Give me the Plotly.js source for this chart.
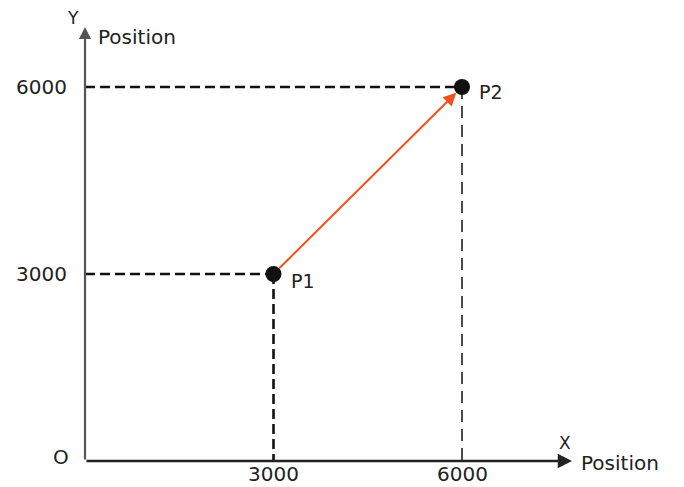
<!DOCTYPE html>
<html><head><meta charset="utf-8">
<script src="https://cdn.plot.ly/plotly-3.0.1.min.js"></script>
<style>body{margin:0;background:#fff}#c{width:684px;height:487px}</style>
</head><body><div id="c"></div>
<script>
const pointNames = ['P1', 'P2'];
const pointX = [3000, 6000];
const pointY = [3000, 6000];
const xTicks = [3000, 6000];
const yTicks = [3000, 6000];
const xTickLabels = ['3000', '6000'];
const yTickLabels = ['3000', '6000'];
const axisLabelX = 'X';
const axisLabelY = 'Y';
const axisName = 'Position';
const originLabel = 'O';

const FONT = 'DejaVu Sans, Arial, sans-serif';
const TXT = '#222';
const fs = 20;

const traces = [];
// dashed guide lines
for (let i = 0; i < pointX.length; i++) {
  traces.push({x: [0, pointX[i]], y: [pointY[i], pointY[i]], mode: 'lines',
    line: {color: '#111', width: 2.6, dash: '10px,5px'}, hoverinfo: 'skip', showlegend: false});
  traces.push({x: [pointX[i], pointX[i]], y: [pointY[i], 0], mode: 'lines',
    line: {color: '#111', width: i === 0 ? 2.6 : 1.5, dash: i === 0 ? '10px,5px' : '12px,7px'}, hoverinfo: 'skip', showlegend: false});
}
traces.push({x: pointX, y: pointY, mode: 'markers',
  marker: {color: '#111', size: 16}, hoverinfo: 'skip', showlegend: false});

const ann = [];
// axes
ann.push({x: 7751, y: 0, ax: 0, ay: 0, xref: 'x', yref: 'y', axref: 'x', ayref: 'y',
  showarrow: true, arrowhead: 2, arrowsize: 1.1, arrowwidth: 2.6, arrowcolor: '#222', text: ''});
ann.push({x: 0, y: 6963, ax: 0, ay: 0, xref: 'x', yref: 'y', axref: 'x', ayref: 'y',
  showarrow: true, arrowhead: 2, arrowsize: 1.1, arrowwidth: 2.2, arrowcolor: '#555', text: ''});
// red move arrow
ann.push({x: pointX[1], y: pointY[1], ax: pointX[0], ay: pointY[0], xref: 'x', yref: 'y', axref: 'x', ayref: 'y',
  showarrow: true, arrowhead: 2, arrowsize: 1.3, arrowwidth: 2, arrowcolor: '#f2501f', standoff: 8, startstandoff: 6, text: ''});
// tick labels
for (let i = 0; i < xTicks.length; i++) {
  ann.push({x: xTicks[i], y: 0, xref: 'x', yref: 'y', text: xTickLabels[i], showarrow: false,
    xanchor: 'center', yanchor: 'top', yshift: 0, borderpad: 0, font: {family: FONT, size: fs, color: TXT}});
}
for (let i = 0; i < yTicks.length; i++) {
  ann.push({x: 0, y: yTicks[i], xref: 'x', yref: 'y', text: yTickLabels[i], showarrow: false,
    xanchor: 'right', yanchor: 'middle', xshift: -16, yshift: 0, font: {family: FONT, size: fs, color: TXT}});
}
// point labels
for (let i = 0; i < pointX.length; i++) {
  ann.push({x: pointX[i], y: pointY[i], xref: 'x', yref: 'y', text: pointNames[i], showarrow: false,
    xanchor: 'left', yanchor: 'middle', xshift: 15, yshift: i === 0 ? -7 : -5, font: {family: FONT, size: fs - 1, color: TXT}});
}
// axis names
ann.push({x: 0, y: 0, xref: 'x', yref: 'y', text: originLabel, showarrow: false, xanchor: 'center', yanchor: 'middle',
  xshift: -24, yshift: 4, font: {family: FONT, size: fs, color: TXT}});
ann.push({x: 7751, y: 0, xref: 'x', yref: 'y', text: axisLabelX, showarrow: false, xanchor: 'center', yanchor: 'middle',
  xshift: -7, yshift: 18, font: {family: FONT, size: 17, color: TXT}});
ann.push({x: 7751, y: 0, xref: 'x', yref: 'y', text: axisName, showarrow: false, xanchor: 'left', yanchor: 'middle',
  xshift: 7, yshift: -2, font: {family: FONT, size: fs, color: TXT}});
ann.push({x: 0, y: 6963, xref: 'x', yref: 'y', text: axisLabelY, showarrow: false, xanchor: 'center', yanchor: 'middle',
  xshift: -12, yshift: 9, font: {family: FONT, size: 17, color: TXT}});
ann.push({x: 0, y: 6963, xref: 'x', yref: 'y', text: axisName, showarrow: false, xanchor: 'left', yanchor: 'middle',
  xshift: 11, yshift: -10, font: {family: FONT, size: fs, color: TXT}});

const layout = {
  width: 684, height: 487,
  margin: {l: 0, r: 0, t: 0, b: 0},
  paper_bgcolor: '#fff', plot_bgcolor: '#fff',
  xaxis: {range: [-1353, 9533], visible: false, fixedrange: true},
  yaxis: {range: [-417, 7396], visible: false, fixedrange: true},
  annotations: ann,
  showlegend: false
};
Plotly.newPlot('c', traces, layout, {staticPlot: true});
</script></body></html>
